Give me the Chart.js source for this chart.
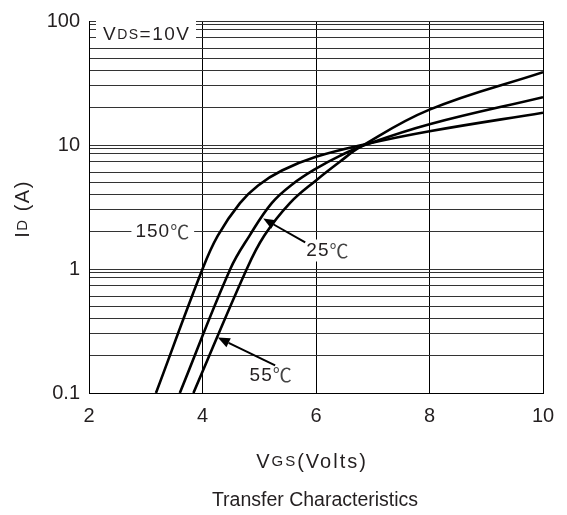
<!DOCTYPE html>
<html>
<head>
<meta charset="utf-8">
<script src="https://cdn.jsdelivr.net/npm/chart.js@4.4.1/dist/chart.umd.min.js"></script>
<style>
  html, body { margin: 0; padding: 0; background: #fff; }
  canvas { display: block; }
</style>
</head>
<body>
<canvas id="chart" width="567" height="515"></canvas>
<script>
// --- data (VGS in volts, ID in amps) ---
const vgs150 = [3.18, 4.00, 4.27, 4.66, 4.98, 5.40, 6.0, 6.81, 8.0, 10.0];
const id150  = [0.1, 1.0, 1.86, 3.4, 4.72, 6.23, 8.03, 10.0, 12.9, 18.2];
const vgs25  = [3.60, 4.49, 4.83, 5.22, 5.58, 6.0, 6.42, 6.86, 8.0, 10.0];
const id25   = [0.1, 1.0, 1.86, 3.4, 4.81, 6.45, 8.18, 10.0, 14.7, 24.3];
const vgs55  = [3.84, 4.78, 5.09, 5.54, 6.0, 6.42, 6.78, 8.0, 10.0];
const id55   = [0.1, 1.0, 1.86, 3.4, 5.18, 7.33, 9.64, 19.3, 38.7];

const xTicks = [2, 4, 6, 8, 10];
const decades = [0.1, 1, 10];
// the datasheet grid is not a clean log grid, these are the lines as drawn
const gridMantissas = [1, 2, 3, 4, 5, 6, 7.4, 8.5, 9.4];

const yGrid = [];
decades.forEach(d => gridMantissas.forEach(m => yGrid.push(d * m)));
yGrid.push(100);

const FONT = "'Liberation Sans', Arial, sans-serif";
const CJK = "'Noto Sans CJK SC', sans-serif";
const INK = '#231f20';

function pts(xs, ys) {
    return xs.map((x, i) => ({ x: x, y: ys[i] }));
}

function isDecade(v) {
    const l = Math.log10(v);
    return Math.abs(l - Math.round(l)) < 1e-6;
}

// runs of text on one baseline, parts = [[text, size, family, colour], ...]
function drawParts(ctx, parts, x, y, align, spacing) {
    ctx.letterSpacing = (spacing || 0) + 'px';
    let w = 0;
    parts.forEach(p => { ctx.font = p[1] + 'px ' + (p[2] || FONT); w += ctx.measureText(p[0]).width; });
    let cx = align === 'center' ? x - w / 2 : (align === 'right' ? x - w : x);
    ctx.textAlign = 'left';
    parts.forEach(p => {
        ctx.font = p[1] + 'px ' + (p[2] || FONT);
        ctx.fillStyle = p[3] || INK;
        ctx.fillText(p[0], cx, y);
        cx += ctx.measureText(p[0]).width;
    });
    ctx.letterSpacing = '0px';
    return w;
}

// labels and arrows, positions in data units
const labels = [
    { num: '150', x: 3.30, y: 2.0 },
    { num: '25',  x: 6.21, y: 1.41 },
    { num: '55',  x: 5.21, y: 0.139 }
];
const arrows = [
    { from: [5.81, 1.64],  to: [5.07, 2.55] },
    { from: [5.28, 0.167], to: [4.27, 0.28] }
];

const extras = {
    id: 'extras',
    afterDraw(chart) {
        const ctx = chart.ctx;
        const xs = chart.scales.x, ys = chart.scales.y;
        ctx.save();
        ctx.textBaseline = 'middle';

        // VDS box
        ctx.fillStyle = '#fff';
        ctx.fillRect(96, 19, 100, 28);
        drawParts(ctx, [['V', 19], ['DS', 14], ['=10V', 19]], 103, 35, 'left', 1.5);

        // curve labels
        labels.forEach(l => {
            const px = xs.getPixelForValue(l.x), py = ys.getPixelForValue(l.y);
            const parts = [[l.num, 19], ['℃', 19, CJK, '#444']];
            ctx.letterSpacing = '1px';
            let w = 0;
            parts.forEach(p => { ctx.font = p[1] + 'px ' + (p[2] || FONT); w += ctx.measureText(p[0]).width; });
            ctx.fillStyle = '#fff';
            ctx.fillRect(px - w / 2 - 4, py - 11, w + 8, 22);
            drawParts(ctx, parts, px, py, 'center', 1);
        });

        // arrows
        ctx.strokeStyle = '#000';
        ctx.fillStyle = '#000';
        ctx.lineWidth = 2;
        arrows.forEach(a => {
            const x1 = xs.getPixelForValue(a.from[0]), y1 = ys.getPixelForValue(a.from[1]);
            const x2 = xs.getPixelForValue(a.to[0]), y2 = ys.getPixelForValue(a.to[1]);
            const ang = Math.atan2(y2 - y1, x2 - x1);
            const hl = 12, hw = 5;
            const bx = x2 - hl * Math.cos(ang), by = y2 - hl * Math.sin(ang);
            ctx.beginPath();
            ctx.moveTo(x1, y1);
            ctx.lineTo(bx, by);
            ctx.stroke();
            ctx.beginPath();
            ctx.moveTo(x2, y2);
            ctx.lineTo(bx + hw * Math.sin(ang), by - hw * Math.cos(ang));
            ctx.lineTo(bx - hw * Math.sin(ang), by + hw * Math.cos(ang));
            ctx.closePath();
            ctx.fill();
        });

        // axis titles and caption
        drawParts(ctx, [['V', 20], ['GS', 15], ['(Volts)', 20]], 312, 462, 'center', 2);
        drawParts(ctx, [['Transfer Characteristics', 19.5]], 315, 501, 'center', 0);

        ctx.translate(23, 209);
        ctx.rotate(-Math.PI / 2);
        drawParts(ctx, [['I', 20], ['D', 15], [' (A)', 20]], 0, 0, 'center', 1.5);
        ctx.restore();
    }
};

function curve(label, xs, ys) {
    return {
        label: label,
        data: pts(xs, ys),
        borderColor: '#000',
        borderWidth: 2.6,
        pointRadius: 0,
        fill: false,
        tension: 0.4
    };
}

new Chart(document.getElementById('chart'), {
    type: 'line',
    data: {
        datasets: [
            curve('150℃', vgs150, id150),
            curve('25℃', vgs25, id25),
            curve('55℃', vgs55, id55)
        ]
    },
    options: {
        responsive: false,
        animation: false,
        devicePixelRatio: 1,
        clip: true,
        layout: { padding: { top: 15, right: 24, left: 0, bottom: 0 } },
        plugins: { legend: { display: false }, tooltip: { enabled: false } },
        scales: {
            x: {
                type: 'linear',
                min: 2, max: 10,
                afterBuildTicks: s => { s.ticks = xTicks.map(v => ({ value: v })); },
                afterFit: s => { s.height = 122; },
                grid: { color: '#000', lineWidth: 1, drawTicks: false },
                border: { color: '#000', width: 1 },
                ticks: { color: INK, padding: 11, font: { family: FONT, size: 20 } }
            },
            y: {
                type: 'logarithmic',
                min: 0.1, max: 100,
                afterBuildTicks: s => { s.ticks = yGrid.map(v => ({ value: v })); },
                afterFit: s => { s.width = 89; },
                grid: { color: '#333', lineWidth: 1, drawTicks: false },
                border: { color: '#000', width: 1 },
                ticks: {
                    color: INK,
                    padding: 9,
                    autoSkip: false,
                    font: { family: FONT, size: 20 },
                    callback: v => isDecade(v) ? String(Math.round(v * 10) / 10) : ''
                }
            }
        }
    },
    plugins: [extras]
});
</script>
</body>
</html>
